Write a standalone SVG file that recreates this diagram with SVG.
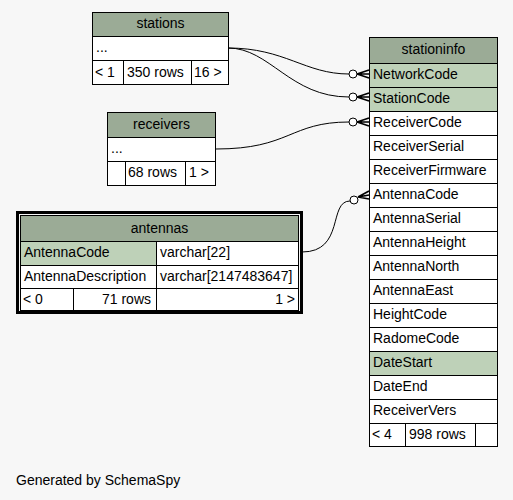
<svg xmlns="http://www.w3.org/2000/svg" width="513" height="500" viewBox="0 0 513 500">
<style>
text{font-family:"Liberation Sans",Arial,Helvetica,sans-serif;font-size:14px;fill:#000}
.c{text-anchor:middle}
.r{text-anchor:end}
.hd{fill:#9bab96;stroke:#000;stroke-width:1}
.key{fill:#bed1b8;stroke:#000;stroke-width:1}
.cell{fill:#fff;stroke:#000;stroke-width:1}
.ln{fill:none;stroke:#000;stroke-width:1}
.crow{fill:none;stroke:#000;stroke-width:1.6}
.circ{fill:#fff;stroke:#000;stroke-width:1}
</style>
<rect width="513" height="500" fill="#f7f7f7"/>
<g id="connectors">
<path class="ln" d="M228,48 C285,48 305,74 349,74"/>
<path class="ln" d="M228,48 C270,48 290,97 349,97"/>
<path class="ln" d="M216,149 C290,149 290,122 349,122"/>
<path class="ln" d="M302,252 C345,252 328,201 350,201"/>
<circle class="circ" cx="353" cy="74" r="4"/>
<circle class="circ" cx="353" cy="97" r="4"/>
<circle class="circ" cx="353" cy="122" r="4"/>
<circle class="circ" cx="354" cy="200" r="4"/>
<path class="crow" d="M357,74 L369,70 M357,74 L369,74 M357,74 L369,78"/>
<path class="crow" d="M357,97 L369,93 M357,97 L369,97 M357,97 L369,101"/>
<path class="crow" d="M357,122 L369,118 M357,122 L369,122 M357,122 L369,126"/>
<path class="crow" d="M358,197 L369,191 M358,197 L369,195 M358,197 L369,199"/>
</g>
<g id="stations">
<rect class="hd" x="92.5" y="12.5" width="136" height="24"/>
<text class="c" x="160.5" y="28">stations</text>
<rect class="cell" x="92.5" y="36.5" width="136" height="24"/>
<text x="96" y="52">...</text>
<rect class="cell" x="92.5" y="60.5" width="31" height="24"/>
<rect class="cell" x="123.5" y="60.5" width="68" height="24"/>
<rect class="cell" x="191.5" y="60.5" width="37" height="24"/>
<text x="95" y="77">&lt; 1</text>
<text x="127" y="77">350 rows</text>
<text x="194" y="77">16 &gt;</text>
</g>
<g id="receivers">
<rect class="hd" x="107.5" y="112.5" width="108" height="25"/>
<text class="c" x="161.5" y="129">receivers</text>
<rect class="cell" x="107.5" y="137.5" width="108" height="24"/>
<text x="111" y="153">...</text>
<rect class="cell" x="107.5" y="161.5" width="18" height="24"/>
<rect class="cell" x="125.5" y="161.5" width="60" height="24"/>
<rect class="cell" x="185.5" y="161.5" width="30" height="24"/>
<text x="128" y="177">68 rows</text>
<text x="189" y="177">1 &gt;</text>
</g>
<g id="antennas">
<rect x="17.5" y="212.5" width="284" height="100" fill="none" stroke="#000" stroke-width="3"/>
<rect class="hd" x="20.5" y="215.5" width="278" height="26"/>
<text class="c" x="159.5" y="233">antennas</text>
<rect class="key" x="20.5" y="241.5" width="136" height="24"/>
<rect class="cell" x="156.5" y="241.5" width="142" height="24"/>
<text x="24" y="257">AntennaCode</text>
<text x="160" y="257">varchar[22]</text>
<rect class="cell" x="20.5" y="265.5" width="136" height="23"/>
<rect class="cell" x="156.5" y="265.5" width="142" height="23"/>
<text x="24" y="281">AntennaDescription</text>
<text x="160" y="281">varchar[2147483647]</text>
<rect class="cell" x="20.5" y="288.5" width="53" height="22"/>
<rect class="cell" x="73.5" y="288.5" width="83" height="22"/>
<rect class="cell" x="156.5" y="288.5" width="142" height="22"/>
<text x="23" y="304">&lt; 0</text>
<text class="r" x="151" y="304">71 rows</text>
<text class="r" x="295" y="304">1 &gt;</text>
</g>
<g id="stationinfo">
<rect class="hd" x="369.5" y="37.5" width="128" height="26"/>
<text class="c" x="433.5" y="54">stationinfo</text>
<rect class="key" x="369.5" y="63.5" width="128" height="24"/>
<text x="373" y="79">NetworkCode</text>
<rect class="key" x="369.5" y="87.5" width="128" height="24"/>
<text x="373" y="103">StationCode</text>
<rect class="cell" x="369.5" y="111.5" width="128" height="24"/>
<text x="373" y="127">ReceiverCode</text>
<rect class="cell" x="369.5" y="135.5" width="128" height="24"/>
<text x="373" y="151">ReceiverSerial</text>
<rect class="cell" x="369.5" y="159.5" width="128" height="24"/>
<text x="373" y="175">ReceiverFirmware</text>
<rect class="cell" x="369.5" y="183.5" width="128" height="24"/>
<text x="373" y="199">AntennaCode</text>
<rect class="cell" x="369.5" y="207.5" width="128" height="24"/>
<text x="373" y="223">AntennaSerial</text>
<rect class="cell" x="369.5" y="231.5" width="128" height="24"/>
<text x="373" y="247">AntennaHeight</text>
<rect class="cell" x="369.5" y="255.5" width="128" height="24"/>
<text x="373" y="271">AntennaNorth</text>
<rect class="cell" x="369.5" y="279.5" width="128" height="24"/>
<text x="373" y="295">AntennaEast</text>
<rect class="cell" x="369.5" y="303.5" width="128" height="24"/>
<text x="373" y="319">HeightCode</text>
<rect class="cell" x="369.5" y="327.5" width="128" height="24"/>
<text x="373" y="343">RadomeCode</text>
<rect class="key" x="369.5" y="351.5" width="128" height="24"/>
<text x="373" y="367">DateStart</text>
<rect class="cell" x="369.5" y="375.5" width="128" height="24"/>
<text x="373" y="391">DateEnd</text>
<rect class="cell" x="369.5" y="399.5" width="128" height="24"/>
<text x="373" y="415">ReceiverVers</text>
<rect class="cell" x="369.5" y="423.5" width="36" height="23"/>
<rect class="cell" x="405.5" y="423.5" width="70" height="23"/>
<rect class="cell" x="475.5" y="423.5" width="22" height="23"/>
<text x="372" y="439">&lt; 4</text>
<text x="409" y="439">998 rows</text>
</g>
<text x="16" y="485">Generated by SchemaSpy</text>
</svg>
